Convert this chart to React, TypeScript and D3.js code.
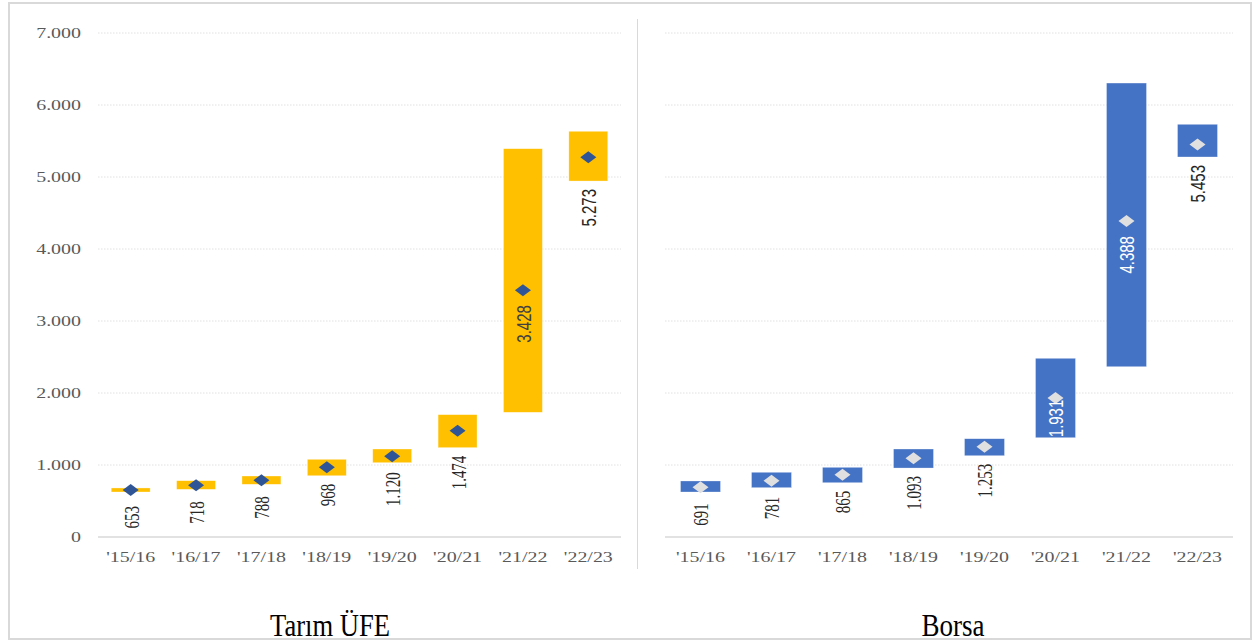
import React from "react";
import * as d3 from "d3";

const categories = ["'15/16", "'16/17", "'17/18", "'18/19", "'19/20", "'20/21", "'21/22", "'22/23"];
const ufeValues = [653, 718, 788, 968, 1120, 1474, 3428, 5273];
const ufeLow = [625, 662, 732, 851, 1032, 1241, 1732, 4944];
const ufeHigh = [681, 782, 847, 1079, 1222, 1699, 5393, 5635];
const borsaValues = [691, 781, 865, 1093, 1253, 1931, 4388, 5453];
const borsaLow = [625, 685, 754, 958, 1129, 1379, 2365, 5278];
const borsaHigh = [778, 899, 968, 1222, 1365, 2482, 6305, 5732];
const yTicks = [0, 1000, 2000, 3000, 4000, 5000, 6000, 7000];
const titles = ["Tarım ÜFE", "Borsa"];

const W = 1255;
const H = 644;
const fmt = d3
  .formatLocale({ decimal: ",", thousands: ".", grouping: [3], currency: ["", ""] })
  .format(",d");

const SERIF = "'Liberation Serif', 'Times New Roman', serif";
const SANS = "'Liberation Sans Narrow', 'Liberation Sans', Arial, sans-serif";
const GRID = "#d9d9d9";
const STRETCH = 1.33;

type PanelProps = {
  x0: number;
  x1: number;
  values: number[];
  low: number[];
  high: number[];
  barColor: string;
  markerColor: string;
  barFrac: number;
  insideLabelColor: string;
  sansIdx: number[];
  showYAxis: boolean;
  title: string;
  titleX: number;
  titleLen: number;
};

const y = d3.scaleLinear().domain([0, 7000]).range([537, 33]);

function Panel(p: PanelProps) {
  const x = d3.scaleBand<string>().domain(categories).range([p.x0, p.x1]).padding(0);
  const step = x.step();
  const bw = step * p.barFrac;
  const diamond = (cx: number, cy: number) =>
    `M${cx},${cy - 6}L${cx + 8},${cy}L${cx},${cy + 6}L${cx - 8},${cy}Z`;
  return (
    <g>
      {yTicks.map((t) => (
        <line
          key={"g" + t}
          x1={p.x0}
          x2={p.x1}
          y1={y(t)}
          y2={y(t)}
          stroke={GRID}
          strokeWidth={t === 0 ? 1.3 : 0.8}
          strokeDasharray={t === 0 ? undefined : "1.5,1.5"}
        />
      ))}
      {p.showYAxis &&
        yTicks.map((t) => (
          <text
            key={"yl" + t}
            transform={`translate(81,${y(t) + 5}) scale(${STRETCH},1)`}
            textAnchor="end"
            fontFamily={SERIF}
            fontSize={15}
            fill="#595959"
          >
            {fmt(t)}
          </text>
        ))}
      {categories.map((c, i) => {
        const cx = (x(c) as number) + step / 2;
        const yTop = y(p.high[i]);
        const yBot = y(p.low[i]);
        return (
          <rect
            key={"b" + c}
            x={cx - bw / 2}
            y={yTop}
            width={bw}
            height={yBot - yTop}
            fill={p.barColor}
            stroke="#ffffff"
            strokeOpacity={0.5}
            strokeWidth={0.6}
          />
        );
      })}
      {categories.map((c, i) => {
        const cx = (x(c) as number) + step / 2;
        return <path key={"d" + c} d={diamond(cx, y(p.values[i]))} fill={p.markerColor} />;
      })}
      {categories.map((c, i) => {
        const cx = (x(c) as number) + step / 2;
        const yp = y(p.values[i]);
        const yBot = y(p.low[i]);
        const inside = yBot - yp > 30;
        const top = inside
          ? Math.min(yp + 15, yBot - 38)
          : Math.max(yp + 16, yBot + 8);
        const sans = p.sansIdx.includes(i);
        return (
          <text
            key={"l" + c}
            transform={`translate(${cx + 1},${top}) scale(${STRETCH},1) rotate(-90)`}
            textAnchor="end"
            dy="0.35em"
            fontFamily={sans ? SANS : SERIF}
            fontSize={sans ? 15 : 15}
            fill={inside ? p.insideLabelColor : "#262626"}
          >
            {fmt(p.values[i])}
          </text>
        );
      })}
      {categories.map((c) => {
        const cx = (x(c) as number) + step / 2;
        return (
          <text
            key={"x" + c}
            transform={`translate(${cx},562) scale(${STRETCH},1)`}
            textAnchor="middle"
            fontFamily={SERIF}
            fontSize={15}
            fill="#595959"
          >
            {c}
          </text>
        );
      })}
      <text
        x={p.titleX}
        y={636}
        textAnchor="middle"
        fontFamily={SERIF}
        fontSize={31}
        textLength={p.titleLen}
        lengthAdjust="spacingAndGlyphs"
        fill="#000"
      >
        {p.title}
      </text>
    </g>
  );
}

export default function App() {
  return (
    <svg
      width={W}
      height={H}
      style={{ position: "absolute", left: 0, top: 0, background: "#fff" }}
    >
      <rect x={0} y={0} width={W} height={H} fill="#fff" />
      <rect x={9} y={3} width={1242} height={636} fill="none" stroke={GRID} strokeWidth={2} />
      <line x1={637.5} x2={637.5} y1={19} y2={569} stroke={GRID} strokeWidth={1} />
      <Panel
        x0={98}
        x1={621}
        values={ufeValues}
        low={ufeLow}
        high={ufeHigh}
        barColor="#FFC000"
        markerColor="#2F5597"
        barFrac={0.595}
        insideLabelColor="#404040"
        sansIdx={[6, 7]}
        showYAxis={true}
        title={titles[0]}
        titleX={330}
        titleLen={120}
      />
      <Panel
        x0={665}
        x1={1233}
        values={borsaValues}
        low={borsaLow}
        high={borsaHigh}
        barColor="#4472C4"
        markerColor="#E0E0E0"
        barFrac={0.563}
        insideLabelColor="#ffffff"
        sansIdx={[5, 6, 7]}
        showYAxis={false}
        title={titles[1]}
        titleX={953}
        titleLen={63}
      />
    </svg>
  );
}
